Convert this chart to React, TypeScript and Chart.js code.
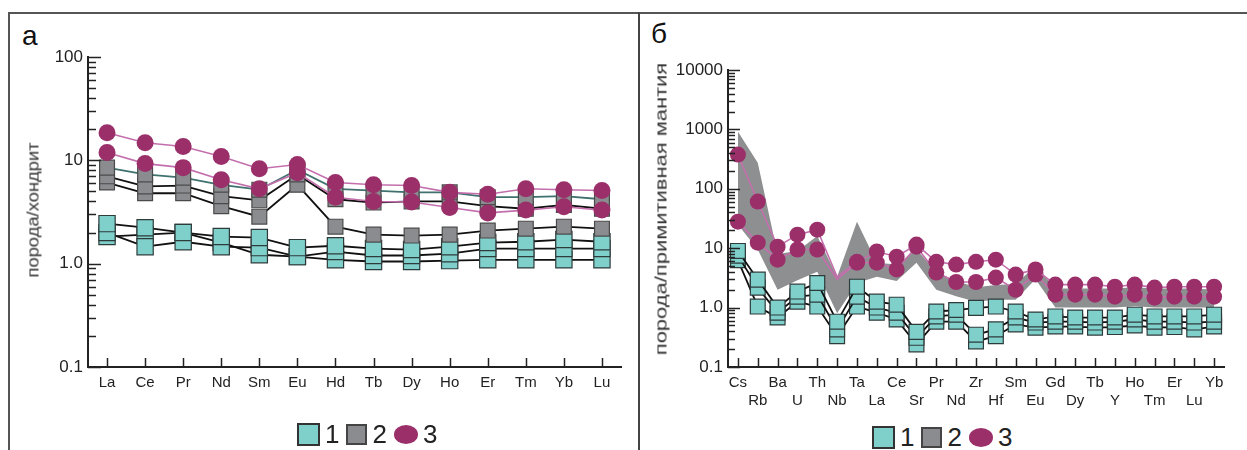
import React, { useEffect, useRef } from 'react';
import { Chart, registerables } from 'chart.js';
Chart.register(...registerables);

// ---------- Panel а: chondrite-normalised REE ----------
const reeLabels = ['La', 'Ce', 'Pr', 'Nd', 'Sm', 'Eu', 'Hd', 'Tb', 'Dy', 'Ho', 'Er', 'Tm', 'Yb', 'Lu'];
const reeGroup1A = [2.44, 2.23, 2.0, 1.83, 1.79, 1.43, 1.49, 1.4, 1.37, 1.46, 1.6, 1.63, 1.71, 1.63];
const reeGroup1B = [2.0, 1.46, 1.63, 1.46, 1.43, 1.17, 1.31, 1.2, 1.2, 1.25, 1.4, 1.4, 1.4, 1.4];
const reeGroup1C = [1.83, 1.91, 2.0, 1.6, 1.22, 1.17, 1.09, 1.05, 1.05, 1.07, 1.09, 1.09, 1.09, 1.09];
const reeGroup2A = [8.5, 7.3, 6.8, 5.8, 5.2, 8.1, 5.3, 5.1, 4.9, 4.9, 4.4, 4.4, 4.5, 4.2];
const reeGroup2B = [7.0, 5.6, 5.7, 4.5, 4.1, 7.3, 4.2, 3.9, 4.0, 4.0, 3.6, 3.4, 3.7, 3.4];
const reeGroup2C = [6.1, 4.8, 4.8, 3.6, 2.85, 5.8, 2.28, 1.91, 1.87, 1.91, 2.09, 2.18, 2.28, 2.18];
const reeGroup3A = [18.5, 14.8, 13.6, 10.9, 8.3, 9.1, 6.1, 5.8, 5.7, 4.9, 4.7, 5.3, 5.2, 5.1];
const reeGroup3B = [11.9, 9.3, 8.5, 6.5, 5.3, 7.6, 4.4, 4.0, 3.95, 3.5, 3.1, 3.3, 3.55, 3.3];
const reeTickValues = [0.1, 1, 10, 100];
const reeTickLabels = ['0.1', '1.0', '10', '100'];
const reeAxisTitle = 'порода/хондрит';

// ---------- Panel б: primitive-mantle-normalised spider ----------
const spiderLabels = ['Cs', 'Rb', 'Ba', 'U', 'Th', 'Nb', 'Ta', 'La', 'Ce', 'Sr', 'Pr', 'Nd', 'Zr', 'Hf', 'Sm', 'Eu', 'Gd', 'Dy', 'Tb', 'Y', 'Ho', 'Tm', 'Er', 'Lu', 'Yb'];
const fieldUpper = [920, 275, 8, 9, 16, 3.3, 28, 5.7, 5.3, 9.5, 4.0, 2.8, 2.2, 2.4, 2.5, 5.0, 2.1, 2.1, 2.1, 2.1, 2.2, 2.1, 2.1, 2.1, 2.0];
const fieldLower = [25, 9.5, 2.0, 2.9, 4.0, 0.8, 2.6, 3.3, 2.8, 5.7, 2.0, 1.55, 1.25, 1.35, 1.35, 3.0, 1.0, 1.0, 1.0, 1.0, 1.05, 1.0, 1.0, 1.0, 1.0];
const spiderGroup1A = [9.0, 2.96, 1.0, 1.86, 2.6, 0.58, 2.25, 1.26, 1.12, 0.39, 0.86, 0.91, 0.99, 1.04, 0.86, 0.63, 0.71, 0.68, 0.68, 0.68, 0.76, 0.71, 0.71, 0.71, 0.76];
const spiderGroup1B = [7.5, 2.17, 0.82, 1.53, 1.65, 0.43, 1.53, 1.0, 0.82, 0.31, 0.71, 0.76, 0.35, 0.43, 0.68, 0.56, 0.58, 0.58, 0.56, 0.58, 0.63, 0.58, 0.58, 0.56, 0.58];
const spiderGroup1C = [6.3, 1.04, 0.68, 1.26, 1.04, 0.33, 1.04, 0.82, 0.63, 0.24, 0.58, 0.58, 0.27, 0.33, 0.52, 0.46, 0.48, 0.48, 0.46, 0.47, 0.5, 0.46, 0.47, 0.43, 0.48];
const spiderGroup3A = [377, 61, 10.6, 16.9, 20.5, 3.3, 5.9, 8.8, 7.2, 11.5, 5.9, 5.3, 5.9, 6.4, 3.6, 4.4, 2.44, 2.44, 2.44, 2.25, 2.44, 2.17, 2.25, 2.25, 2.25];
const spiderGroup3B = [28, 12.4, 6.4, 9.5, 9.5, 3.0, 5.7, 5.7, 4.4, 10.6, 3.9, 2.7, 2.7, 3.2, 2.0, 3.6, 1.65, 1.65, 1.65, 1.53, 1.65, 1.47, 1.53, 1.53, 1.53];
const spiderTickValues = [0.1, 1, 10, 100, 1000, 10000];
const spiderTickLabels = ['0.1', '1.0', '10', '100', '1000', '10000'];
const spiderAxisTitle = 'порода/примитивная мантия';

const legendLabels = ['1', '2', '3'];

const FONT = "'Liberation Sans', Arial, sans-serif";
const TEAL = '#7fcfcb';
const GRAY = '#8b8c90';
const MAGENTA = '#9a2f6a';
const MAGENTA_LINE = '#c46fad';
const AXIS = '#222';

const innerTicks = {
  id: 'innerTicks',
  afterDatasetsDraw(chart: any, _args: any, opts: any) {
    const { ctx, chartArea } = chart;
    const x = chart.scales.x;
    const y = chart.scales.y;
    ctx.save();
    ctx.strokeStyle = AXIS;
    ctx.lineWidth = 1.5;
    const lo = Math.round(Math.log10(y.min));
    const hi = Math.round(Math.log10(y.max));
    for (let e = lo; e <= hi; e++) {
      for (let m = 1; m <= 9; m++) {
        if (e === hi && m > 1) break;
        const v = m * Math.pow(10, e);
        const py = Math.round(y.getPixelForValue(v)) + 0.5;
        const len = m === 1 ? opts.major : opts.minor;
        ctx.beginPath();
        ctx.moveTo(chartArea.left, py);
        ctx.lineTo(chartArea.left + len, py);
        ctx.stroke();
      }
    }
    for (let i = 0; i < x.ticks.length; i++) {
      const px = Math.round(x.getPixelForTick(i)) + 0.5;
      ctx.beginPath();
      ctx.moveTo(px, chartArea.bottom);
      ctx.lineTo(px, chartArea.bottom - opts.xlen);
      ctx.stroke();
    }
    ctx.restore();
  },
};

function lineSet(data: number[], kind: 'teal' | 'gray' | 'mag', lineColor: string, r: number, order: number, radii?: number[]) {
  const base: any = {
    data,
    borderColor: lineColor,
    borderWidth: kind === 'mag' ? 1.6 : 1.8,
    fill: false,
    tension: 0,
    order,
  };
  if (kind === 'teal') {
    Object.assign(base, { pointStyle: 'rect', pointRadius: r, pointBackgroundColor: TEAL, pointBorderColor: '#2e3b3b', pointBorderWidth: 1.2 });
  } else if (kind === 'gray') {
    Object.assign(base, { pointStyle: 'rect', pointRadius: r, pointBackgroundColor: GRAY, pointBorderColor: '#4a4a4a', pointBorderWidth: 1.2 });
  } else {
    Object.assign(base, { pointStyle: 'circle', pointRadius: radii || r, pointBackgroundColor: MAGENTA, pointBorderColor: MAGENTA, pointBorderWidth: 0 });
  }
  base.pointHoverRadius = base.pointRadius;
  return base;
}

function baseOptions(min: number, max: number, tickValues: number[], tickLabels: string[], yWidth: number, xHeight: number, padRight: number, padTop: number, multiRow: boolean, tickOpts: any) {
  return {
    responsive: false,
    animation: false,
    events: [],
    layout: { padding: { left: 0, right: padRight, top: padTop, bottom: 0 } },
    plugins: { legend: { display: false }, tooltip: { enabled: false }, innerTicks: tickOpts },
    scales: {
      x: {
        type: 'category',
        offset: true,
        grid: { display: false, drawTicks: false },
        border: { display: true, color: AXIS, width: 2 },
        ticks: {
          autoSkip: false,
          maxRotation: 0,
          minRotation: 0,
          padding: 7,
          color: AXIS,
          font: { family: FONT, size: 15 },
          callback: function (this: any, _v: any, i: number) {
            const lab = this.getLabelForValue(i);
            return multiRow && i % 2 === 1 ? ['', lab] : lab;
          },
        },
        afterFit: (s: any) => { s.height = xHeight; },
      },
      y: {
        type: 'logarithmic',
        min,
        max,
        grid: { display: false, drawTicks: false },
        border: { display: true, color: AXIS, width: 2 },
        ticks: {
          padding: 5,
          color: AXIS,
          font: { family: FONT, size: 17 },
          callback: (v: number) => {
            const i = tickValues.findIndex((t) => Math.abs(t - v) / t < 1e-6);
            return i >= 0 ? tickLabels[i] : '';
          },
        },
        afterBuildTicks: (s: any) => { s.ticks = tickValues.map((v) => ({ value: v })); },
        afterFit: (s: any) => { s.width = yWidth; },
      },
    },
  };
}

function ReeChart() {
  const ref = useRef<HTMLCanvasElement>(null);
  useEffect(() => {
    const ch = new Chart(ref.current as HTMLCanvasElement, {
      type: 'line',
      data: {
        labels: reeLabels,
        datasets: [
          lineSet(reeGroup3A, 'mag', MAGENTA_LINE, 8.5, 1),
          lineSet(reeGroup3B, 'mag', MAGENTA_LINE, 8.5, 2),
          lineSet(reeGroup2A, 'gray', '#3f716e', 10.5, 3),
          lineSet(reeGroup2B, 'gray', '#111', 10.5, 4),
          lineSet(reeGroup2C, 'gray', '#111', 10.5, 5),
          lineSet(reeGroup1A, 'teal', '#111', 11.5, 6),
          lineSet(reeGroup1B, 'teal', '#111', 11.5, 7),
          lineSet(reeGroup1C, 'teal', '#111', 11.5, 8),
        ],
      },
      options: baseOptions(0.1, 100, reeTickValues, reeTickLabels, 78, 53, 17, 42, false, { major: 13, minor: 8, xlen: 9 }) as any,
      plugins: [innerTicks as any],
    });
    return () => ch.destroy();
  }, []);
  return <canvas ref={ref} width={628} height={405} style={{ position: 'absolute', left: 10, top: 15, width: 628, height: 405 }} />;
}

function SpiderChart() {
  const ref = useRef<HTMLCanvasElement>(null);
  useEffect(() => {
    const nbHidden = spiderLabels.map((l) => (l === 'Nb' ? 0 : 8));
    const ch = new Chart(ref.current as HTMLCanvasElement, {
      type: 'line',
      data: {
        labels: spiderLabels,
        datasets: [
          lineSet(spiderGroup3A, 'mag', MAGENTA_LINE, 8, 1, nbHidden),
          lineSet(spiderGroup3B, 'mag', MAGENTA_LINE, 8, 2, nbHidden),
          lineSet(spiderGroup1A, 'teal', '#111', 10.5, 3),
          lineSet(spiderGroup1B, 'teal', '#111', 10.5, 4),
          lineSet(spiderGroup1C, 'teal', '#111', 10.5, 5),
          { data: fieldUpper, borderWidth: 0, pointRadius: 0, backgroundColor: '#8e8f91', fill: '+1', order: 10, tension: 0 },
          { data: fieldLower, borderWidth: 0, pointRadius: 0, fill: false, order: 11, tension: 0 },
        ],
      },
      options: baseOptions(0.1, 10000, spiderTickValues, spiderTickLabels, 87, 53, 17, 55, true, { major: 12, minor: 7, xlen: 9 }) as any,
      plugins: [innerTicks as any],
    });
    return () => ch.destroy();
  }, []);
  return <canvas ref={ref} width={600} height={405} style={{ position: 'absolute', left: 641, top: 15, width: 600, height: 405 }} />;
}

function AxisTitle({ x, y, text, stretch }: { x: number; y: number; text: string; stretch: number }) {
  return (
    <div
      style={{
        position: 'absolute',
        left: x,
        top: y,
        whiteSpace: 'nowrap',
        fontFamily: FONT,
        fontSize: 17,
        lineHeight: '17px',
        color: '#333',
        transform: `translate(-50%, -50%) rotate(-90deg) scaleX(${stretch})`,
      }}
    >
      {text}
    </div>
  );
}

function Legend({ left, top }: { left: number; top: number }) {
  const txt: React.CSSProperties = { fontFamily: FONT, fontSize: 26, color: '#222', lineHeight: '26px', margin: '0 7px 0 5px' };
  return (
    <div style={{ position: 'absolute', left, top, display: 'flex', alignItems: 'center', height: 26 }}>
      <div style={{ width: 19, height: 19, background: TEAL, border: '2px solid #333' }} />
      <span style={txt}>{legendLabels[0]}</span>
      <div style={{ width: 17, height: 17, background: GRAY, border: '2px solid #444' }} />
      <span style={txt}>{legendLabels[1]}</span>
      <div style={{ width: 24, height: 19, background: MAGENTA, borderRadius: '50%' }} />
      <span style={txt}>{legendLabels[2]}</span>
    </div>
  );
}

export default function App() {
  return (
    <div style={{ position: 'absolute', left: 0, top: 0, width: 1247, height: 450, background: '#fff', overflow: 'hidden' }}>
      <div style={{ position: 'absolute', left: 8, top: 12, width: 1239, height: 2, background: '#555' }} />
      <div style={{ position: 'absolute', left: 8, top: 12, width: 2, height: 438, background: '#555' }} />
      <div style={{ position: 'absolute', left: 638, top: 12, width: 2, height: 438, background: '#444' }} />
      <div style={{ position: 'absolute', left: 22, top: 20, fontFamily: FONT, fontSize: 28, color: '#111' }}>а</div>
      <div style={{ position: 'absolute', left: 651, top: 18, fontFamily: FONT, fontSize: 28, color: '#111' }}>б</div>
      <ReeChart />
      <SpiderChart />
      <AxisTitle x={33} y={210} text={reeAxisTitle} stretch={1.08} />
      <AxisTitle x={661} y={209} text={spiderAxisTitle} stretch={1.29} />
      <Legend left={297} top={421} />
      <Legend left={872} top={424} />
    </div>
  );
}
